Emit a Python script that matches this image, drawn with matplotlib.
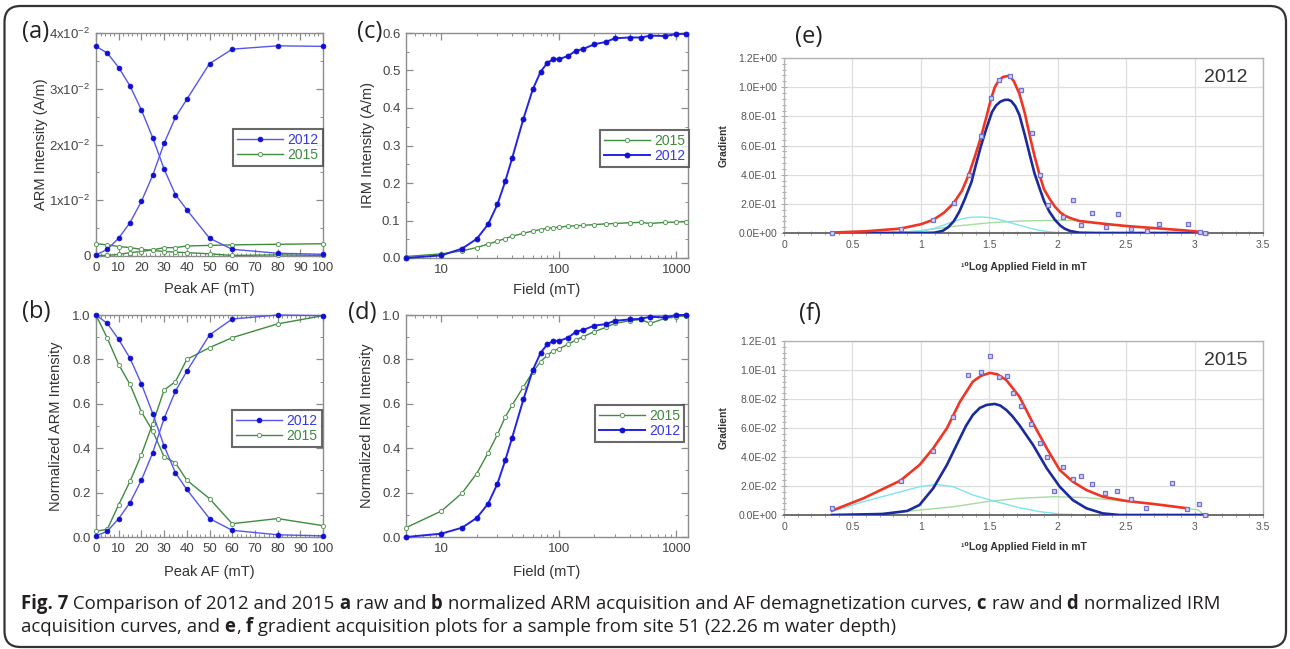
import matplotlib
matplotlib.use('Agg')
import matplotlib.pyplot as plt
from matplotlib.lines import Line2D
from matplotlib.patches import FancyBboxPatch
from matplotlib.ticker import MultipleLocator, FuncFormatter, FixedLocator, LogLocator, NullFormatter, FixedFormatter

plt.rcParams['font.family'] = ['Liberation Sans', 'DejaVu Sans']
plt.rcParams['mathtext.fontset'] = 'custom'
plt.rcParams['mathtext.rm'] = 'Liberation Sans'
plt.rcParams['mathtext.it'] = 'Liberation Sans'

# ---------------- data ----------------
af_steps = [0, 5, 10, 15, 20, 25, 30, 35, 40, 50, 60, 80, 100]
arm_2012_acq = [0.0002, 0.0012, 0.0032, 0.0060, 0.0098, 0.0145, 0.0202, 0.0249, 0.0281, 0.0345, 0.0371, 0.0377, 0.0376]
arm_2012_dem = [0.0376, 0.0364, 0.0338, 0.0305, 0.0262, 0.0212, 0.0156, 0.0110, 0.0083, 0.0032, 0.0012, 0.0005, 0.0003]
arm_2015_acq = [0.0001, 0.0001, 0.0003, 0.0006, 0.0008, 0.0011, 0.0015, 0.0015, 0.0018, 0.0019, 0.0020, 0.0021, 0.0022]
arm_2015_dem = [0.0022, 0.0020, 0.0017, 0.0015, 0.0012, 0.0010, 0.0008, 0.0007, 0.0006, 0.0004, 0.0001, 0.0002, 0.0001]

narm_2012_acq = [0.005, 0.026, 0.083, 0.155, 0.256, 0.38, 0.534, 0.657, 0.747, 0.91, 0.982, 1.0, 0.997]
narm_2012_dem = [1.0, 0.962, 0.89, 0.805, 0.69, 0.556, 0.41, 0.289, 0.214, 0.083, 0.03, 0.01, 0.005]
narm_2015_acq = [0.026, 0.035, 0.146, 0.251, 0.371, 0.511, 0.662, 0.70, 0.80, 0.853, 0.898, 0.96, 0.997]
narm_2015_dem = [1.0, 0.895, 0.777, 0.687, 0.564, 0.477, 0.361, 0.334, 0.256, 0.173, 0.06, 0.083, 0.051]

irm_field = [5, 10, 15, 20, 25, 30, 35, 40, 50, 60, 70, 80, 90, 100, 120, 140, 160, 200, 250, 300, 400, 500, 600, 800, 1000, 1200]
irm_2012 = [0.0, 0.007, 0.025, 0.051, 0.09, 0.143, 0.205, 0.266, 0.372, 0.45, 0.497, 0.521, 0.530, 0.530, 0.539, 0.553, 0.557,
            0.570, 0.576, 0.586, 0.588, 0.588, 0.593, 0.592, 0.597, 0.598]
irm_2015 = [0.004, 0.011, 0.019, 0.028, 0.037, 0.045, 0.052, 0.058, 0.066, 0.072, 0.076, 0.079, 0.081, 0.082, 0.085, 0.086, 0.087,
            0.089, 0.091, 0.092, 0.094, 0.095, 0.092, 0.095, 0.096, 0.097]
nirm_2012 = [0.0, 0.015, 0.042, 0.086, 0.15, 0.24, 0.346, 0.447, 0.621, 0.752, 0.83, 0.869, 0.884, 0.883, 0.898, 0.925, 0.932,
             0.952, 0.959, 0.974, 0.98, 0.983, 0.992, 0.989, 1.0, 1.0]
nirm_2015 = [0.042, 0.117, 0.198, 0.286, 0.379, 0.462, 0.541, 0.594, 0.677, 0.744, 0.79, 0.82, 0.839, 0.847, 0.869, 0.887, 0.902,
             0.925, 0.944, 0.962, 0.974, 0.98, 0.962, 0.985, 0.992, 0.997]

# gradient plot 2012 (e)
e_pts_x = [0.348, 0.852, 1.09, 1.24, 1.35, 1.44, 1.511, 1.572, 1.65, 1.735, 1.81, 1.873, 1.929, 2.04, 2.11, 2.173, 2.253,
           2.35, 2.44, 2.538, 2.65, 2.737, 2.95, 3.037, 3.074]
e_pts_y = [0.0, 0.03, 0.09, 0.206, 0.40, 0.663, 0.928, 1.047, 1.077, 0.983, 0.686, 0.40, 0.195, 0.11, 0.228, 0.058, 0.136,
           0.04, 0.128, 0.025, 0.011, 0.062, 0.062, 0.009, 0.0]
e_red_x = [0.35, 0.6, 0.85, 1.0, 1.09, 1.17, 1.24, 1.30, 1.35, 1.40, 1.44, 1.48, 1.51, 1.54, 1.57, 1.60, 1.637, 1.655, 1.68,
           1.72, 1.76, 1.80, 1.83, 1.87, 1.90, 1.94, 1.98, 2.02, 2.05, 2.09, 2.16, 2.33, 2.5, 2.7, 2.9, 3.01, 3.05]
e_red_y = [0.003, 0.012, 0.03, 0.06, 0.09, 0.14, 0.205, 0.29, 0.40, 0.54, 0.66, 0.80, 0.91, 1.0, 1.047, 1.07, 1.077, 1.07,
           1.04, 0.955, 0.82, 0.65, 0.53, 0.39, 0.30, 0.235, 0.18, 0.14, 0.12, 0.103, 0.082, 0.064, 0.048, 0.034, 0.02,
           0.011, 0.002]
e_blue_x = [0.35, 1.0, 1.1, 1.16, 1.2, 1.24, 1.28, 1.32, 1.37, 1.40, 1.44, 1.48, 1.52, 1.55, 1.58, 1.61, 1.637, 1.66, 1.69,
            1.72, 1.76, 1.80, 1.83, 1.87, 1.90, 1.94, 1.98, 2.02, 2.05, 2.09, 2.16, 2.3, 3.08]
e_blue_y = [0.0, 0.0, 0.002, 0.015, 0.04, 0.08, 0.144, 0.23, 0.35, 0.46, 0.60, 0.72, 0.83, 0.875, 0.90, 0.912, 0.914, 0.905,
            0.87, 0.81, 0.67, 0.52, 0.41, 0.30, 0.22, 0.145, 0.09, 0.05, 0.03, 0.014, 0.002, 0.0, 0.0]
e_cyan_x = [0.35, 0.6, 0.85, 1.0, 1.09, 1.17, 1.24, 1.30, 1.36, 1.43, 1.50, 1.56, 1.62, 1.72, 1.80, 1.87, 1.94, 2.015, 2.1]
e_cyan_y = [0.0, 0.001, 0.005, 0.015, 0.03, 0.055, 0.08, 0.097, 0.107, 0.11, 0.106, 0.095, 0.08, 0.053, 0.032, 0.018, 0.008,
            0.002, 0.0]
e_green_x = [0.35, 0.6, 0.85, 1.0, 1.24, 1.5, 1.72, 2.0, 2.13, 2.2, 2.33, 2.5, 2.7, 2.9, 3.0, 3.05, 3.08]
e_green_y = [0.0, 0.002, 0.007, 0.015, 0.046, 0.07, 0.082, 0.087, 0.085, 0.078, 0.064, 0.048, 0.034, 0.02, 0.012, 0.005, 0.0]

# gradient plot 2015 (f)
f_pts_x = [0.348, 0.852, 1.086, 1.236, 1.348, 1.436, 1.504, 1.569, 1.628, 1.674, 1.73, 1.808, 1.869, 1.925, 1.974, 2.04,
           2.112, 2.168, 2.251, 2.348, 2.436, 2.538, 2.647, 2.835, 2.946, 3.036, 3.073]
f_pts_y = [0.0051, 0.0237, 0.0441, 0.0678, 0.0966, 0.0986, 0.1097, 0.0949, 0.0956, 0.0839, 0.0754, 0.0625, 0.0494, 0.0398,
           0.0168, 0.0329, 0.0248, 0.0269, 0.0211, 0.0149, 0.0166, 0.0108, 0.0046, 0.0218, 0.0041, 0.0078, 0.0]
f_red_x = [0.35, 0.58, 0.85, 0.99, 1.09, 1.19, 1.285, 1.38, 1.44, 1.504, 1.56, 1.625, 1.72, 1.82, 1.92, 2.015, 2.11, 2.21,
           2.33, 2.5, 2.7, 2.95]
f_red_y = [0.003, 0.0115, 0.0237, 0.0345, 0.046, 0.0598, 0.078, 0.092, 0.096, 0.098, 0.097, 0.093, 0.0816, 0.0632, 0.046,
           0.031, 0.023, 0.0172, 0.0126, 0.0097, 0.0076, 0.0046]
f_blue_x = [0.35, 0.72, 0.9, 0.99, 1.09, 1.19, 1.285, 1.33, 1.38, 1.43, 1.48, 1.54, 1.58, 1.625, 1.67, 1.72, 1.82, 1.92,
            2.015, 2.11, 2.21, 2.33, 2.45, 3.08]
f_blue_y = [0.0, 0.0007, 0.0028, 0.0069, 0.0184, 0.0345, 0.0529, 0.0615, 0.069, 0.0738, 0.0759, 0.0766, 0.0755, 0.0724,
            0.068, 0.062, 0.0483, 0.0322, 0.0195, 0.0103, 0.0046, 0.0011, 0.0, 0.0]
f_cyan_x = [0.35, 0.58, 0.85, 0.99, 1.115, 1.236, 1.38, 1.55, 1.72, 1.87, 2.015, 2.2]
f_cyan_y = [0.0023, 0.0092, 0.016, 0.0195, 0.0211, 0.0195, 0.0138, 0.0092, 0.005, 0.0023, 0.0007, 0.0]
f_green_x = [0.35, 0.72, 0.99, 1.24, 1.48, 1.72, 1.97, 2.21, 2.45, 2.7, 2.94, 3.03, 3.06, 3.075]
f_green_y = [0.0, 0.001, 0.0034, 0.0057, 0.0092, 0.0115, 0.0126, 0.012, 0.0099, 0.0074, 0.0046, 0.0034, 0.0005, 0.0]

series_labels = ['2012', '2015']
panel_labels = ['(a)', '(b)', '(c)', '(d)', '(e)', '(f)']

caption_line1 = [("Fig. 7", True), (" Comparison of 2012 and 2015", False), (" a", True), (" raw and", False), (" b", True),
                 (" normalized ARM acquisition and AF demagnetization curves,", False), (" c", True),
                 (" raw and", False), (" d", True), (" normalized IRM", False)]
caption_line2 = [("acquisition curves, and", False), (" e", True), (",", False), (" f", True),
                 (" gradient acquisition plots for a sample from site 51 (22.26 m water depth)", False)]

# ---------------- figure ----------------
W, H = 1290, 649
fig = plt.figure(figsize=(W / 100, H / 100), dpi=100)
fig.patch.set_facecolor('white')


def rect(x0, y0, x1, y1):
    return [x0 / W, 1 - y1 / H, (x1 - x0) / W, (y1 - y0) / H]


BLUE_L = '#5656ee'
BLUE_M = '#1010d2'
BLUE_L2 = '#2424e4'
GREEN = '#3f8c3f'
GREEN_T = '#3d8a3d'
BLUE_T = '#3838e8'


def igor(ax):
    for s in ax.spines.values():
        s.set_color('#8c8c8c')
        s.set_linewidth(1.0)
    ax.tick_params(which='both', direction='in', top=True, right=True, colors='#8c8c8c',
                   labelcolor='#444444', labelsize=9.5, pad=4)
    ax.tick_params(which='major', length=5, width=0.9)
    ax.tick_params(which='minor', length=2.5, width=0.7)


def legend(ax, handles, labels, colors, anchor):
    leg = ax.legend(handles, labels, loc='upper left', bbox_to_anchor=anchor, frameon=True, fancybox=False,
                    edgecolor='#444444', fontsize=10, handlelength=3.3, borderaxespad=0, labelspacing=0.05,
                    borderpad=0.3, handletextpad=0.3, labelcolor=colors)
    leg.get_frame().set_linewidth(1.5)
    return leg


def blue_line(ax, x, y, lc, lw=1.0, ms=3.4):
    ax.plot(x, y, color=lc, lw=lw, marker='o', ms=ms, mfc=BLUE_M, mec=BLUE_M, mew=0.6, clip_on=False, zorder=4)


def green_line(ax, x, y):
    ax.plot(x, y, color=GREEN, lw=1.0, marker='o', ms=3.0, mfc='white', mec='#5c9c5c', mew=0.7,
            clip_on=False, zorder=3)


h_blue = Line2D([], [], color=BLUE_L, lw=1.0, marker='o', ms=3.4, mfc=BLUE_M, mec=BLUE_M, mew=0.6)
h_blue2 = Line2D([], [], color=BLUE_L2, lw=1.4, marker='o', ms=3.6, mfc=BLUE_M, mec=BLUE_M, mew=0.6)
h_green = Line2D([], [], color=GREEN, lw=1.0, marker='o', ms=3.0, mfc='white', mec='#5c9c5c', mew=0.7)

# (a)
axA = fig.add_axes(rect(96, 33, 323, 256))
green_line(axA, af_steps, arm_2015_acq)
green_line(axA, af_steps, arm_2015_dem)
blue_line(axA, af_steps, arm_2012_acq, BLUE_L)
blue_line(axA, af_steps, arm_2012_dem, BLUE_L)
axA.set_xlim(0, 100)
axA.set_ylim(0, 0.04)
axA.xaxis.set_major_locator(MultipleLocator(10))
axA.xaxis.set_minor_locator(MultipleLocator(2))
axA.yaxis.set_major_locator(MultipleLocator(0.01))
axA.yaxis.set_minor_locator(MultipleLocator(0.005))
axA.yaxis.set_major_formatter(FuncFormatter(
    lambda v, p: '0' if abs(v) < 1e-9 else r'%dx10$^{-2}$' % int(round(v * 100))))
igor(axA)
axA.set_ylabel('ARM Intensity (A/m)', fontsize=10.5, color='#333333')
axA.set_xlabel('Peak AF (mT)', fontsize=10.5, color='#333333')
axA.yaxis.set_label_coords(-0.211, 0.5)
axA.xaxis.set_label_coords(0.5, -0.117)
legend(axA, [h_blue, h_green], series_labels, [BLUE_T, GREEN_T], (0.604, 0.57))

# (b)
axB = fig.add_axes(rect(96, 315, 323, 537))
green_line(axB, af_steps, narm_2015_acq)
green_line(axB, af_steps, narm_2015_dem)
blue_line(axB, af_steps, narm_2012_acq, BLUE_L)
blue_line(axB, af_steps, narm_2012_dem, BLUE_L)
axB.set_xlim(0, 100)
axB.set_ylim(0, 1.0)
axB.xaxis.set_major_locator(MultipleLocator(10))
axB.xaxis.set_minor_locator(MultipleLocator(2))
axB.yaxis.set_major_locator(MultipleLocator(0.2))
axB.yaxis.set_minor_locator(MultipleLocator(0.1))
axB.yaxis.set_major_formatter(FuncFormatter(lambda v, p: '%.1f' % v))
igor(axB)
axB.set_ylabel('Normalized ARM Intensity', fontsize=10.5, color='#333333')
axB.set_xlabel('Peak AF (mT)', fontsize=10.5, color='#333333')
axB.yaxis.set_label_coords(-0.145, 0.5)
axB.xaxis.set_label_coords(0.5, -0.126)
legend(axB, [h_blue, h_green], series_labels, [BLUE_T, GREEN_T], (0.6, 0.572))


def log_axis(ax):
    ax.set_xscale('log')
    ax.set_xlim(5, 1256)
    ax.xaxis.set_major_locator(FixedLocator([10, 100, 1000]))
    ax.xaxis.set_major_formatter(FixedFormatter(['10', '100', '1000']))
    ax.xaxis.set_minor_locator(LogLocator(base=10, subs=range(2, 10)))
    ax.xaxis.set_minor_formatter(NullFormatter())


# (c)
axC = fig.add_axes(rect(406, 33, 688, 258))
green_line(axC, irm_field, irm_2015)
blue_line(axC, irm_field, irm_2012, BLUE_L2, lw=1.4, ms=3.6)
log_axis(axC)
axC.set_ylim(0, 0.6)
axC.yaxis.set_major_locator(MultipleLocator(0.1))
axC.yaxis.set_minor_locator(MultipleLocator(0.05))
axC.yaxis.set_major_formatter(FuncFormatter(lambda v, p: '%.1f' % v))
igor(axC)
axC.set_ylabel('IRM Intensity (A/m)', fontsize=10.5, color='#333333')
axC.set_xlabel('Field (mT)', fontsize=10.5, color='#333333')
axC.yaxis.set_label_coords(-0.11, 0.5)
axC.xaxis.set_label_coords(0.5, -0.111)
legend(axC, [h_green, h_blue2], [series_labels[1], series_labels[0]], [GREEN_T, BLUE_T], (0.688, 0.569))

# (d)
axD = fig.add_axes(rect(406, 315, 688, 537))
green_line(axD, irm_field, nirm_2015)
blue_line(axD, irm_field, nirm_2012, BLUE_L2, lw=1.4, ms=3.6)
log_axis(axD)
axD.set_ylim(0, 1.0)
axD.yaxis.set_major_locator(MultipleLocator(0.2))
axD.yaxis.set_minor_locator(MultipleLocator(0.1))
axD.yaxis.set_major_formatter(FuncFormatter(lambda v, p: '%.1f' % v))
igor(axD)
axD.set_ylabel('Normalized IRM Intensity', fontsize=10.5, color='#333333')
axD.set_xlabel('Field (mT)', fontsize=10.5, color='#333333')
axD.yaxis.set_label_coords(-0.113, 0.5)
axD.xaxis.set_label_coords(0.5, -0.126)
legend(axD, [h_green, h_blue2], [series_labels[1], series_labels[0]], [GREEN_T, BLUE_T], (0.67, 0.595))


# (e), (f)
def grad_axes(ax, ymax, ystep, year, px, py, rx, ry, bx, by, cx, cy, gx, gy):
    ax.plot(gx, gy, color='#a6dca0', lw=1.0, zorder=2)
    ax.plot(cx, cy, color='#7ee4ec', lw=1.0, zorder=2)
    ax.plot(bx, by, color='#1c2b9c', lw=1.9, zorder=3, solid_joinstyle='round')
    ax.plot(rx, ry, color='#ef3524', lw=1.9, zorder=4, solid_joinstyle='round')
    ax.plot(px, py, ls='none', marker='s', ms=3.4, mfc='#d2d2f4', mec='#7070d2', mew=0.9, zorder=5, clip_on=False)
    ax.set_xlim(0, 3.5)
    ax.set_ylim(0, ymax)
    ax.xaxis.set_major_locator(MultipleLocator(0.5))
    ax.xaxis.set_minor_locator(MultipleLocator(0.1))
    ax.yaxis.set_major_locator(MultipleLocator(ystep))
    ax.yaxis.set_minor_locator(MultipleLocator(ystep / 5))
    ax.grid(True, which='major', color='#dedede', lw=0.9)
    ax.set_axisbelow(True)
    for k in ['top', 'right', 'left']:
        ax.spines[k].set_color('#b4b4b4')
        ax.spines[k].set_linewidth(1.0)
    ax.spines['bottom'].set_color('#6e6e6e')
    ax.spines['bottom'].set_linewidth(1.4)
    ax.tick_params(which='both', direction='inout', colors='#9a9a9a', labelcolor='#555555', labelsize=7.5, width=0.6)
    ax.tick_params(which='major', length=4, pad=3)
    ax.tick_params(which='minor', length=3)
    ax.yaxis.set_major_formatter(FuncFormatter(lambda v, p: '%.1E' % v))
    ax.xaxis.set_major_formatter(FuncFormatter(lambda v, p: '%g' % v))
    ax.set_ylabel('Gradient', fontsize=7.5, fontweight='bold', color='#333333')
    ax.set_xlabel('\u00b9\u2070Log Applied Field in mT', fontsize=7.5, fontweight='bold', color='#333333')
    ax.yaxis.set_label_coords(-0.115, 0.5)
    ax.text(0.967, 0.89, year, transform=ax.transAxes, ha='right', va='center', fontsize=14, color='#333333')


axE = fig.add_axes(rect(784, 58, 1263, 233))
grad_axes(axE, 1.2, 0.2, series_labels[0], e_pts_x, e_pts_y, e_red_x, e_red_y, e_blue_x, e_blue_y,
          e_cyan_x, e_cyan_y, e_green_x, e_green_y)
axE.xaxis.set_label_coords(0.5, -0.167)

axF = fig.add_axes(rect(784, 341, 1263, 515))
grad_axes(axF, 0.12, 0.02, series_labels[1], f_pts_x, f_pts_y, f_red_x, f_red_y, f_blue_x, f_blue_y,
          f_cyan_x, f_cyan_y, f_green_x, f_green_y)
axF.xaxis.set_label_coords(0.5, -0.157)

# panel labels
label_pos = [(22, 32), (22, 312), (357, 32), (348, 313), (795, 37), (799, 314)]
for lab, (lx, ly) in zip(panel_labels, label_pos):
    fig.text(lx / W, 1 - ly / H, lab, fontsize=17, ha='left', va='center', family=['Open Sans', 'DejaVu Sans'],
             color='#222222')

# outer rounded frame
frame = FancyBboxPatch((0.045, 0.02), 12.815, 6.41, boxstyle='round,pad=0,rounding_size=0.16',
                       transform=fig.dpi_scale_trans, fill=False, ec='#333333', lw=1.6)
fig.patches.append(frame)

# caption
renderer = fig.canvas.get_renderer()
capfam = ['Open Sans', 'DejaVu Sans']


def text_w(s, fs, bold):
    t = fig.text(0, 0, s, fontsize=fs, fontweight='bold' if bold else 'normal', family=capfam)
    w = t.get_window_extent(renderer).width
    t.remove()
    return w


def adv(s, fs, bold):
    return text_w(s + '|', fs, bold) - text_w('|', fs, bold)


base_fs = 10.0
w1 = sum(adv(s, base_fs, b) for s, b in caption_line1)
cap_fs = base_fs * 1196.0 / w1


def draw_line(segs, x0, ybase):
    x = x0
    for s, b in segs:
        fig.text(x / W, 1 - ybase / H, s, fontsize=cap_fs, fontweight='bold' if b else 'normal',
                 family=capfam, ha='left', va='baseline', color='#231f20')
        x += adv(s, cap_fs, b)


draw_line(caption_line1, 21, 609)
draw_line(caption_line2, 21, 632)

fig.savefig('out.png', dpi=100, facecolor='white')
